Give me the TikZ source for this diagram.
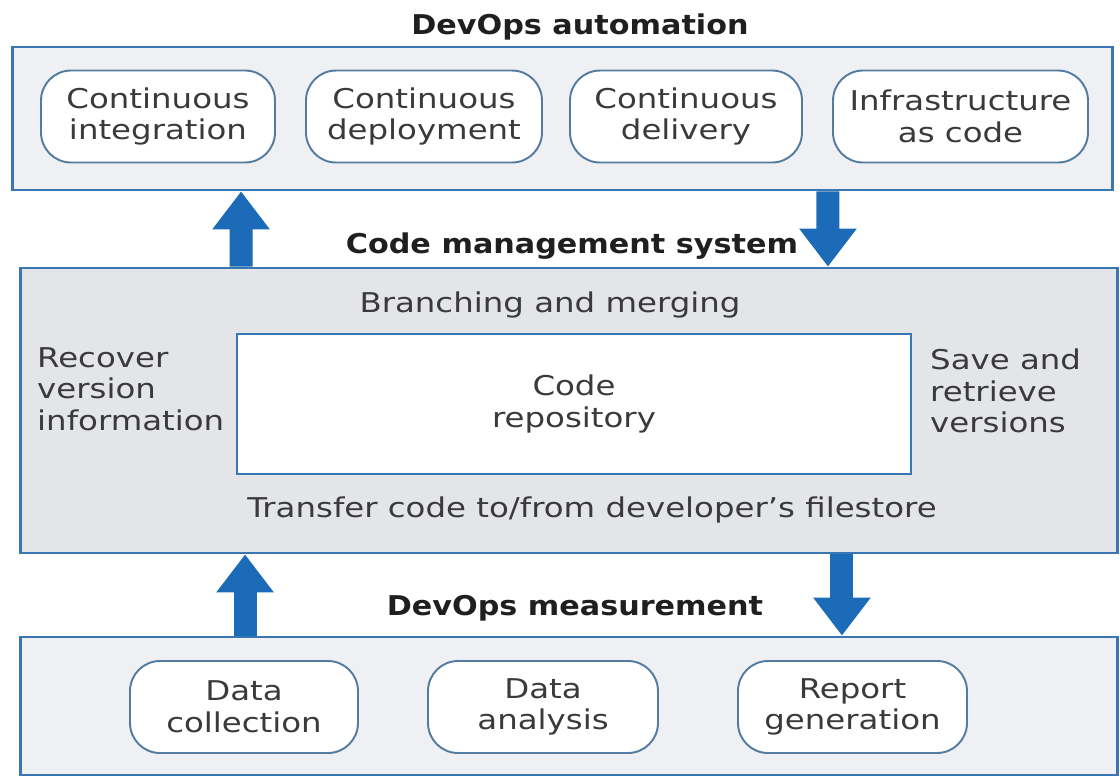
\documentclass[tikz,border=0pt]{standalone}
\usepackage{fontspec}
\setmainfont{DejaVu Sans}[FakeStretch=1.19]
\newfontfamily\headfont{DejaVu Sans Bold}[FakeStretch=1.11]
\usetikzlibrary{arrows.meta}
\definecolor{panelblue}{RGB}{58,118,178}
\definecolor{arrowblue}{RGB}{28,107,184}
\definecolor{stageedge}{RGB}{84,124,160}
\definecolor{palegray}{RGB}{238,240,243}
\definecolor{midgray}{RGB}{227,229,232}
\definecolor{textgray}{RGB}{58,58,58}
\begin{document}
\begin{tikzpicture}
  [x=0.02cm, y=-0.02cm,
  every node/.style={font=\fontsize{15.5}{18}\selectfont, text=textgray},
  panel/.style={draw=panelblue, line width=1.6pt, fill=palegray, inner sep=0pt},
  stage/.style={draw=stageedge, line width=1.1pt, fill=white, rounded corners=0.6cm,
    align=center, inner sep=0pt},
  heading/.style={font=\fontsize{15.5}{18}\selectfont\headfont, text=black!88},
  blockarrow/.style={arrowblue, line width=0.46cm, -{Triangle[length=0.76cm, width=1.1cm]}}]
  \useasboundingbox (0,0) rectangle (1120,778);
  %% panels
  \node (auto) at (562.5,118.5) [panel, minimum width=22.02cm, minimum height=2.86cm] {};
  \node (cms) at (569,410.5) [panel, fill=midgray, minimum width=21.96cm, minimum height=5.70cm] {};
  \node (meas) at (569,706) [panel, minimum width=21.96cm, minimum height=2.76cm] {};
  \node (repo) at (574,404) [panel, fill=white, minimum width=13.48cm, minimum height=2.80cm,
    align=center] {Code\\repository};

  %% headings
  \node (tauto) at (580,27) [heading] {DevOps automation};
  \node (tcms) at (572,246) [heading] {Code management system};
  \node (tmeas) at (575,608) [heading] {DevOps measurement};

  %% stages
  \foreach \stagename/\x/\y/\boxwd/\txt in {ci/158/116.5/4.68/{Continuous\\integration},
    cd/424/116.5/4.72/{Continuous\\deployment}, cdl/686/116.5/4.64/{Continuous\\delivery},
    iac/960.5/116.5/5.10/{Infrastructure\\as code}, dc/244/707/4.56/{Data\\collection},
    da/543/707/4.60/{Data\\analysis}, rg/852.5/707/4.58/{Report\\generation}}
  {
    \node (\stagename) at (\x,\y) [stage, minimum width=\boxwd cm, minimum height=1.84cm] {\txt};
  }

  %% code management labels
  \node (branch) at (550,305) {Branching and merging};
  \node (recover) at (31,389) [anchor=west, align=left] {Recover\\version\\information};
  \node (save) at (924,391) [anchor=west, align=left] {Save and\\retrieve\\versions};
  \node (transfer) at (592,510) {Transfer code to/from developer’s filestore};

  %% arrows
  \draw[blockarrow] ([xshift=-6.56cm]cms.north) -- ([xshift=-6.43cm]auto.south);
  \draw[blockarrow] ([xshift=5.31cm]auto.south) -- ([xshift=5.18cm]cms.north);
  \draw[blockarrow] ([xshift=-6.48cm]meas.north) -- ([xshift=-6.48cm]cms.south);
  \draw[blockarrow] ([xshift=5.46cm]cms.south) -- ([xshift=5.46cm]meas.north);
\end{tikzpicture}
\end{document}
